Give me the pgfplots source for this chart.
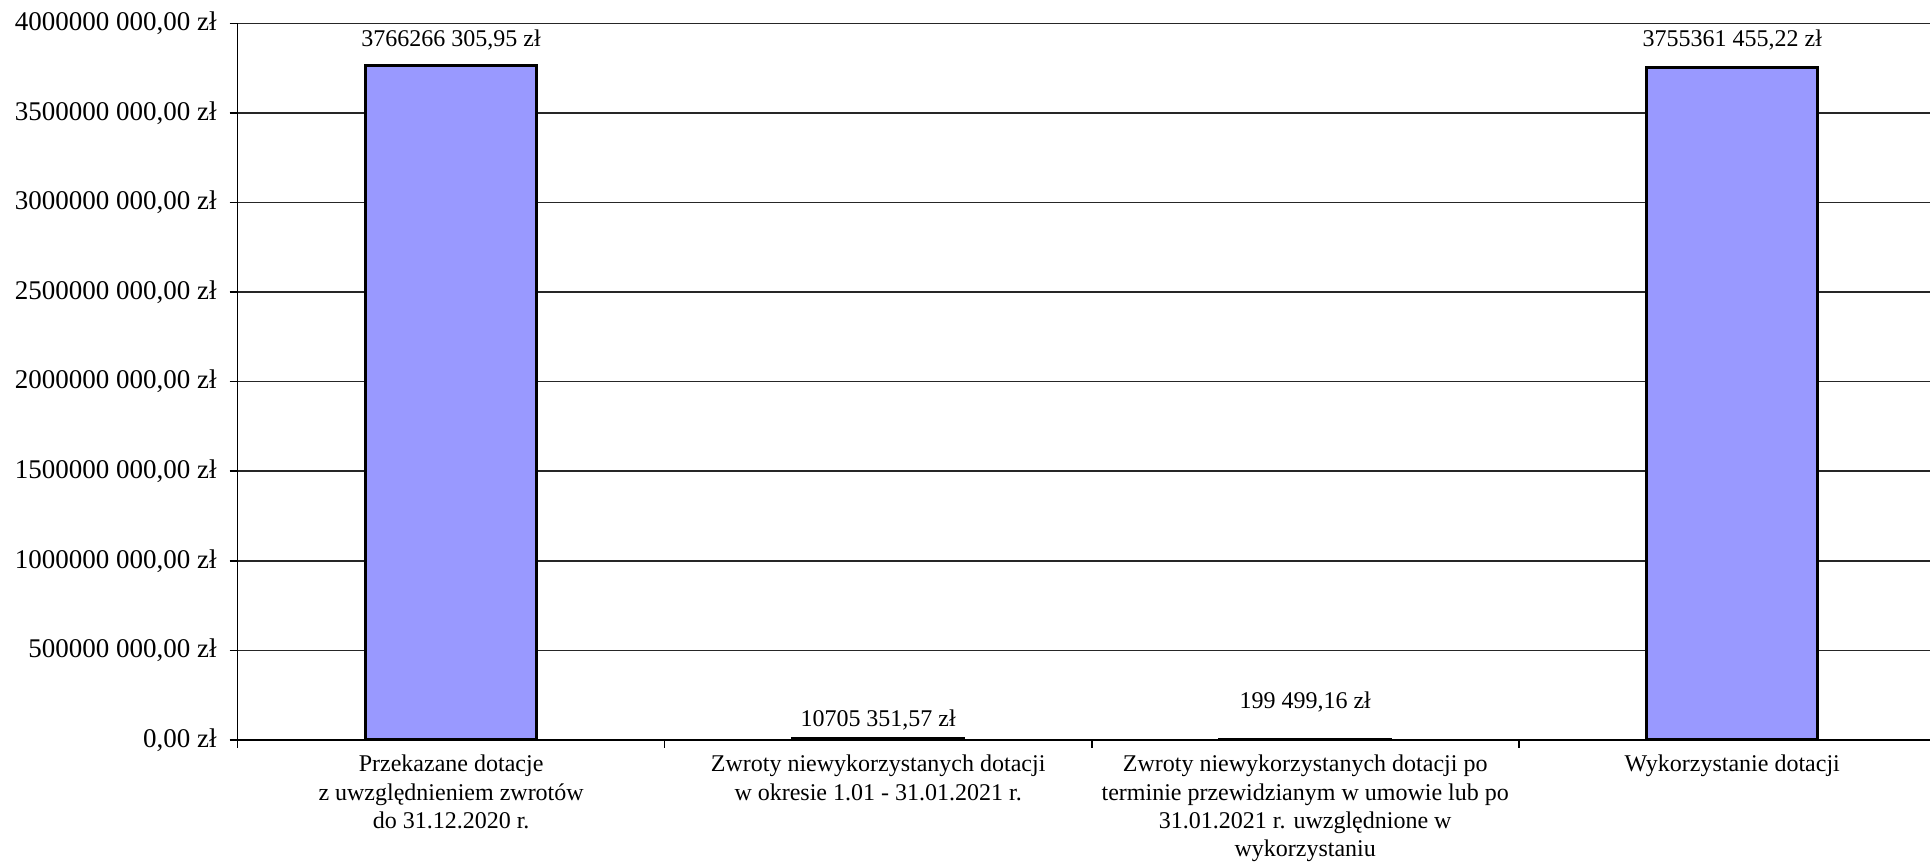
\documentclass[border=0pt]{standalone}
\usepackage{fontspec}
\setmainfont{Liberation Serif}
\usepackage{pgfplots}
\usepackage{pgfplotstable}
\pgfplotsset{compat=1.18}
\definecolor{barfill}{HTML}{9999FF}
\pgfplotstableread{
x y label shift
0 3766266305.95 {3766266 305,95 zł} 12.4
1 10705351.57 {10705 351,57 zł} 9
2 199499.16 {199 499,16 zł} 19
3 3755361455.22 {3755361 455,22 zł} 13.5
}\bardata
\begin{document}
\begin{tikzpicture}
\begin{axis}[
  scale only axis, width=846.2pt, height=358.3pt,
  xmin=-0.5, xmax=3.463, ymin=0, ymax=4000000000,
  clip=false,
  axis lines*=left,
  axis line style={black, line width=0.8pt},
  ybar, bar width=0.4,
  ytick={0,500000000,1000000000,1500000000,2000000000,2500000000,3000000000,3500000000,4000000000},
  yticklabels={{0,00 zł},{500000 000,00 zł},{1000000 000,00 zł},{1500000 000,00 zł},{2000000 000,00 zł},{2500000 000,00 zł},{3000000 000,00 zł},{3500000 000,00 zł},{4000000 000,00 zł}},
  scaled y ticks=false,
  ymajorgrids,
  y grid style={black!85, line width=0.8pt},
  xtick={0,1,2,3},
  xticklabels={{Przekazane dotacje\\z uwzględnieniem zwrotów\\do 31.12.2020 r.},
               {Zwroty niewykorzystanych dotacji\\w okresie 1.01 - 31.01.2021 r.},
               {Zwroty niewykorzystanych dotacji po\\terminie przewidzianym w umowie lub po\\31.01.2021 r. uwzględnione w\\wykorzystaniu},
               {Wykorzystanie dotacji}},
  minor xtick={-0.5,0.5,1.5,2.5},
  major x tick style={draw=none},
  tick align=outside,
  tick style={black, line width=0.8pt},
  major tick length=4pt, minor tick length=4pt,
  xtick pos=bottom, ytick pos=left,
  x tick label style={align=center, anchor=north, font=\fontsize{12}{14.2}\selectfont},
  y tick label style={font=\fontsize{13.5}{15}\selectfont, xshift=-3pt},
  nodes near coords,
  point meta=explicit symbolic,
  visualization depends on={\thisrow{shift} \as \myshift},
  every node near coord/.append style={anchor=center, yshift=\myshift pt, font=\fontsize{12}{14}\selectfont, text=black},
]
\addplot[fill=barfill, draw=black, line width=1.5pt] table[x=x, y=y, meta=label] {\bardata};
\coordinate (O) at (rel axis cs:0,0);
\coordinate (T) at (rel axis cs:1,1);
\end{axis}
\pgfresetboundingbox
\path[use as bounding box] ([xshift=-118.8pt,yshift=-62.5pt]O) rectangle ([yshift=11.7pt]T);
\end{tikzpicture}
\end{document}
